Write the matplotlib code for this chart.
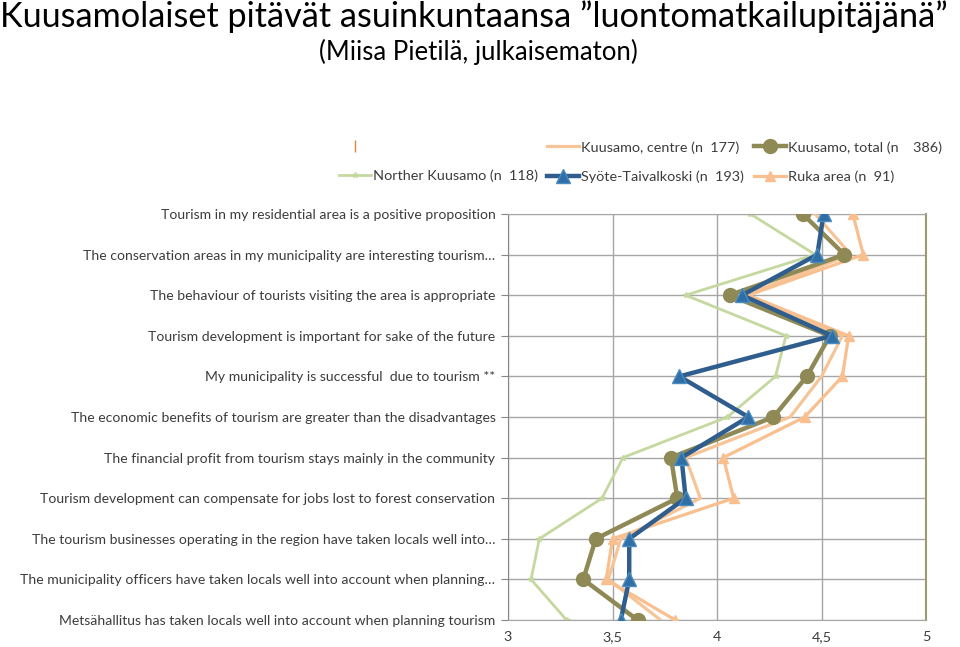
import matplotlib
matplotlib.use("Agg")
import matplotlib.pyplot as plt
from matplotlib.lines import Line2D

plt.rcParams['font.family'] = ['Lato', 'DejaVu Sans']

# statements, top to bottom
statements = [
    "Tourism in my residential area is a positive proposition",
    "The conservation areas in my municipality are interesting tourism\u2026",
    "The behaviour of tourists visiting the area is appropriate",
    "Tourism development is important for sake of the future",
    "My municipality is successful  due to tourism **",
    "The economic benefits of tourism are greater than the disadvantages",
    "The financial profit from tourism stays mainly in the community",
    "Tourism development can compensate for jobs lost to forest conservation",
    "The tourism businesses operating in the region have taken locals well into\u2026",
    "The municipality officers have taken locals well into account when planning\u2026",
    "Metsähallitus has taken locals well into account when planning tourism",
]

# mean scores per area
centre = [4.47, 4.64, 4.13, 4.60, 4.50, 4.35, 3.85, 3.92, 3.54, 3.48, 3.73]
total = [4.41, 4.61, 4.06, 4.54, 4.43, 4.27, 3.78, 3.81, 3.42, 3.36, 3.62]
northern = [4.16, 4.47, 3.85, 4.33, 4.28, 4.05, 3.55, 3.45, 3.15, 3.11, 3.28]
syote = [4.51, 4.48, 4.12, 4.55, 3.82, 4.15, 3.83, 3.85, 3.58, 3.58, 3.54]
ruka = [4.65, 4.70, 4.15, 4.63, 4.60, 4.42, 4.03, 4.08, 3.50, 3.47, 3.80]

xticks = [3, 3.5, 4, 4.5, 5]
xticklabels = ["3", "3,5", "4", "4,5", "5"]

fig = plt.figure(figsize=(9.6, 6.47), dpi=100)
ax = fig.add_axes([508/960, 1-620/647, 418/960, 406/647])

ys = list(range(len(statements)))

ax.plot(centre, ys, color='#f6c496', lw=2.3, zorder=3, label='Kuusamo, centre (n  177)')
ax.plot(total, ys, color='#8f8a55', lw=3.2, marker='o', ms=10, zorder=4,
        label='Kuusamo, total (n    386)')
ax.plot(northern, ys, color='#c5d8a0', lw=2.0, marker='*', ms=4, zorder=2,
        label='Norther Kuusamo (n  118)')
ax.plot(syote, ys, color='#2f5e8e', lw=3.2, marker='^', ms=10, mfc='#2f6fa6',
        mec='#4a8cc0', zorder=5, label='Syöte-Taivalkoski (n  193)')
ax.plot(ruka, ys, color='#f9bf8f', lw=2.3, marker='^', ms=7, zorder=3,
        label='Ruka area (n  91)')

ax.set_xlim(3, 5)
ax.set_ylim(10, 0)
ax.set_xticks(xticks)
ax.set_xticklabels(xticklabels)
ax.set_yticks(ys)
ax.set_yticklabels(statements)
ax.grid(True, color='#a6a6a6', lw=1.0)
ax.set_axisbelow(True)
ax.tick_params(axis='y', length=5, color='#868686', pad=4, labelsize=10.1,
               labelcolor='#3c3c3c')
ax.tick_params(axis='x', length=0, pad=8, labelsize=10.4, labelcolor='#3c3c3c')
ax.spines['left'].set_color('#868686')
ax.spines['bottom'].set_color('#a6a6a6')
ax.spines['top'].set_color('#a6a6a6')
ax.spines['right'].set_color('#9c9a70')
ax.spines['right'].set_linewidth(1.5)

# legend: three columns placed by hand
h, l = ax.get_legend_handles_labels()
blank = Line2D([], [], color='#e0873f', marker='|', ls='none', ms=8)
cols = [([blank, h[2]], ['', l[2]], 326),
        ([h[0], h[3]], [l[0], l[3]], 534),
        ([h[1], h[4]], [l[1], l[4]], 741)]
for hh, ll, x0 in cols:
    fig.legend(hh, ll, loc='upper left', bbox_to_anchor=(x0/960, 1-128/647),
               frameon=False, fontsize=10.4, handlelength=2.2, handletextpad=0.15,
               labelspacing=1.15, labelcolor='#3c3c3c')

fig.text(0.0, 1.0, "Kuusamolaiset pitävät asuinkuntaansa \u201dluontomatkailupitäjänä\u201d",
         fontsize=24.7, va='top', ha='left', color='black')
fig.text(478/960, 1-39/647, "(Miisa Pietilä, julkaisematon)",
         fontsize=18.5, va='top', ha='center', color='black')

fig.savefig('out.png', dpi=100)
